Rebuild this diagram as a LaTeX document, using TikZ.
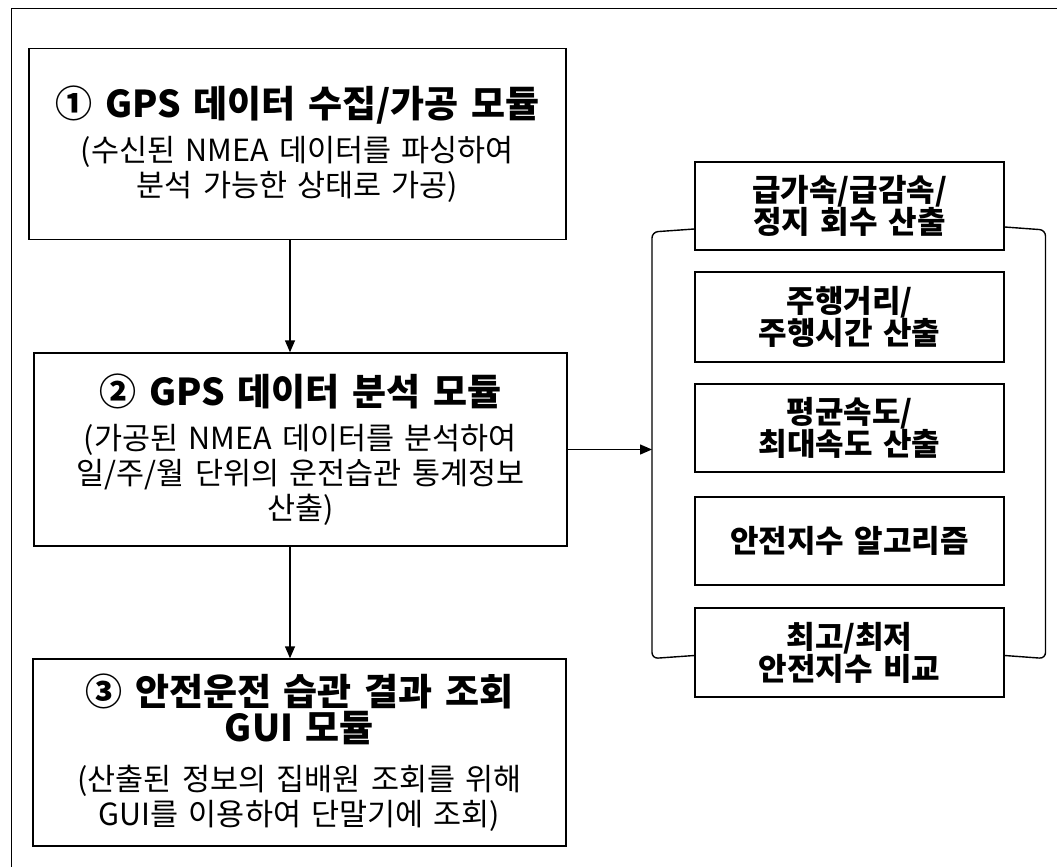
\documentclass[tikz,border=0pt]{standalone}
\usepackage{fontspec}
\setmainfont{Noto Sans CJK KR}[WordSpace=1.5]
\usetikzlibrary{arrows.meta}
\newcommand{\ttlf}{\fontsize{37}{40}\selectfont\bfseries}
\newcommand{\subf}{\fontsize{30.5}{35}\selectfont\mdseries}
\tikzset{
  modbox/.style={draw=black, line width=1.4pt, align=center, inner sep=0pt,
    font=\subf, anchor=center},
  itembox/.style={draw=black, line width=1.4pt, align=center, inner sep=0pt,
    minimum width=309pt, font=\fontsize{31}{32}\selectfont\bfseries},
  conn/.style={line width=1.4pt, -{Triangle[length=12pt,width=10pt]}},
  brace/.style={line width=1.4pt, rounded corners=6pt}
}
\begin{document}
\begin{tikzpicture}[x=1pt,y=-1pt]
\useasboundingbox (0,0) rectangle (1057,867);
\fill[white] (0,0) rectangle (1057,867);
\begin{scope}
\clip (0,0) rectangle (1057,867);
\draw[line width=1.4pt] (11.5,8.5) rectangle (1080,890);
\end{scope}

\node[modbox, minimum width=537pt, minimum height=191pt] (B1) at (297.5,144)
  {\ttlf ① GPS 데이터 수집/가공 모듈\\[9pt]
   \subf (수신된 NMEA 데이터를 파싱하여\\ \subf 분석 가능한 상태로 가공)};
\node[modbox, minimum width=533pt, minimum height=193pt] (B2) at (300.5,449.5)
  {\ttlf ② GPS 데이터 분석 모듈\\[9pt]
   \subf (가공된 NMEA 데이터를 분석하여\\ \subf 일/주/월 단위의 운전습관 통계정보\\ \subf 산출)};
\node[modbox, minimum width=533pt, minimum height=187pt] (B3) at (299.5,752.5)
  {\ttlf ③ 안전운전 습관 결과 조회\\[1pt] \ttlf GUI 모듈\\[14pt]
   \subf (산출된 정보의 집배원 조회를 위해\\ \subf GUI를 이용하여 단말기에 조회)};

\node[itembox, minimum height=88pt] (R1) at (849.5,206) {급가속/급감속/\\정지 회수 산출};
\node[itembox, minimum height=90pt] (R2) at (849.5,317) {주행거리/\\주행시간 산출};
\node[itembox, minimum height=88pt] (R3) at (849.5,428) {평균속도/\\최대속도 산출};
\node[itembox, minimum height=88pt] (R4) at (849.5,541) {안전지수 알고리즘};
\node[itembox, minimum height=89pt] (R5) at (849.5,652.5) {최고/최저\\안전지수 비교};

\coordinate (ax) at (290,0);
\coordinate (brL) at (652,450);
\coordinate (brR) at (1045.5,450);

\draw[conn] (B1.south -| ax) -- (B2.north -| ax);
\draw[conn] (B2.south -| ax) -- (B3.north -| ax);
\draw[conn] (B2.east) -- (B2.east -| brL);

\draw[brace] ([yshift=-23pt]R1.west) -- ([yshift=-26pt]R1.west -| brL)
  -- ([yshift=-6pt]R5.west -| brL) -- ([yshift=-3pt]R5.west);
\draw[brace] ([yshift=-21pt]R1.east) -- ([yshift=-24pt]R1.east -| brR)
  -- ([yshift=-6pt]R5.east -| brR) -- ([yshift=-3pt]R5.east);
\end{tikzpicture}
\end{document}
